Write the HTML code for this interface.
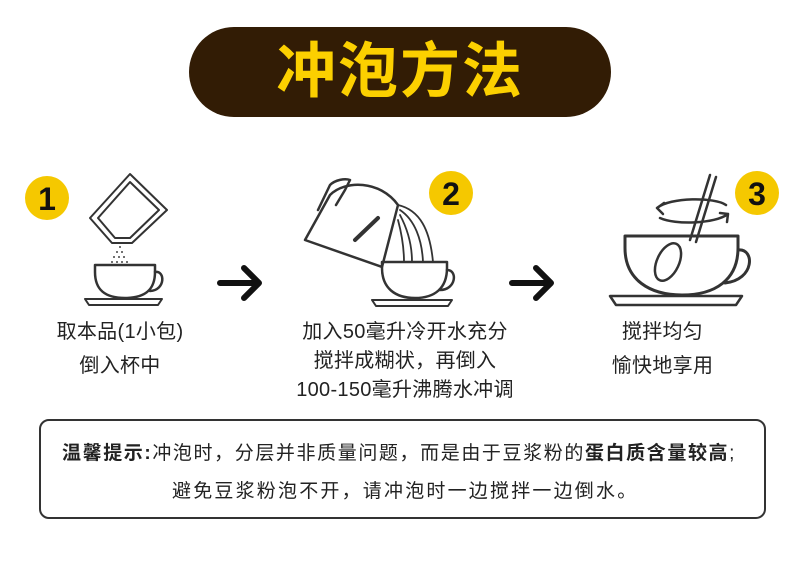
<!DOCTYPE html>
<html><head><meta charset="utf-8"><style>
body{margin:0;width:800px;height:587px;background:#fff;position:relative;overflow:hidden;font-family:"Liberation Sans","Noto Sans CJK SC",sans-serif;color:#222}
.pill{position:absolute;left:189px;top:27px;width:422px;height:90px;border-radius:45px;background:#321c05;color:#fcd000;font-size:60px;font-weight:bold;text-align:center;line-height:90px;letter-spacing:2px}
.t{position:absolute;font-size:20px;text-align:center;line-height:29px;color:#222;white-space:nowrap;letter-spacing:0.3px}
.box{position:absolute;left:39px;top:419px;width:723px;height:96px;border:2px solid #333;border-radius:10px}
.n{position:absolute;font-size:19px;white-space:nowrap;color:#222}
</style></head><body>
<div class="pill">冲泡方法</div>
<svg width="800" height="587" style="position:absolute;left:0;top:0" fill="none" stroke="#333" stroke-width="3" stroke-linecap="round" stroke-linejoin="round">
<circle cx="47" cy="198" r="22" fill="#f5c800" stroke="none"/>
<circle cx="451" cy="193" r="22" fill="#f5c800" stroke="none"/>
<circle cx="757" cy="193" r="22" fill="#f5c800" stroke="none"/>
<g font-family="Liberation Sans" font-weight="bold" font-size="32" fill="#111" stroke="none" text-anchor="middle"><text x="47" y="210">1</text><text x="451" y="205">2</text><text x="757" y="205">3</text></g>
<!-- step1 -->
<path d="M90 218 L130 174 L167 210 L132 243 L112 243 Z" stroke-width="2"/>
<path d="M98 218 L130 182 L159 210 L130 238 L115 238 Z" stroke-width="2"/>
<g fill="#444" stroke="none"><circle cx="120" cy="247" r="1"/><circle cx="117" cy="252" r="1"/><circle cx="122" cy="252" r="1"/><circle cx="114" cy="257" r="1"/><circle cx="119" cy="257" r="1"/><circle cx="124" cy="257" r="1"/><circle cx="112" cy="262" r="1"/><circle cx="117" cy="262" r="1"/><circle cx="122" cy="262" r="1"/><circle cx="127" cy="262" r="1"/></g>
<path d="M95 265 H155 V272 C155 290 145 298 125 298 C105 298 95 290 95 272 Z" stroke-width="2.5"/>
<path d="M155 272 C165 270 166 290 150 291" stroke-width="2.5"/>
<path d="M85 299 H162 L158 305 H89 Z" stroke-width="2"/>
<path d="M220 283 H258 M244 268 L259 283 L244 298" stroke="#111" stroke-width="6"/>
<!-- step2 -->
<path d="M305 240 L330 195 C345 180 380 180 398 205 L382 267 Z" stroke-width="2.5"/>
<path d="M318 210 L330 185 C335 180 345 178 350 180 L345 190 L336 205" stroke-width="2.5"/>
<path d="M355 240 L378 218" stroke-width="4"/>
<path d="M398 205 C420 210 430 230 433 262 M400 210 C415 220 422 240 423 262 M400 215 C408 230 412 245 412 262 M398 220 C402 235 404 250 404 262" stroke-width="1.8"/>
<path d="M382 262 H447 V268 C447 288 435 298 415 298 C395 298 382 288 382 268 Z" stroke-width="2.5"/>
<path d="M447 270 C458 270 456 290 440 290" stroke-width="2.5"/>
<path d="M372 300 H452 L448 306 H376 Z" stroke-width="2"/>
<path d="M512 283 H550 M536 268 L551 283 L536 298" stroke="#111" stroke-width="6"/>
<!-- step3 -->
<path d="M657 208 C670 197 715 197 726 205 M657 208 L664 203 M657 208 L663 214 M660 218 C675 225 715 224 728 214 M728 214 L720 213 M728 214 L727 222" stroke-width="2.5"/>
<path d="M710 175 L690 240 M716 177 L696 242" stroke-width="2.5"/>
<ellipse cx="668" cy="262" rx="11" ry="20" transform="rotate(25 668 262)" stroke-width="2.5"/>
<path d="M625 236 H738 V248 C738 280 715 295 682 295 C650 295 625 280 625 248 Z" stroke-width="3"/>
<path d="M738 250 C755 248 755 280 725 283" stroke-width="3"/>
<path d="M610 296 H742 L736 305 H616 Z" stroke-width="2.5"/>
</svg>
<div class="t" style="left:20px;top:318px;width:200px">取本品(1小包)<br><span style="position:relative;top:5px">倒入杯中</span></div>
<div class="t" style="left:280px;top:318px;width:250px">加入50毫升冷开水充分<br>搅拌成糊状，再倒入<br>100-150毫升沸腾水冲调</div>
<div class="t" style="left:580px;top:318px;width:165px">搅拌均匀<br><span style="position:relative;top:5px">愉快地享用</span></div>
<div class="box"></div>
<div class="n" style="left:62px;top:438px;letter-spacing:1.6px"><b>温馨提示:</b>冲泡时，分层并非质量问题，而是由于豆浆粉的<b>蛋白质含量较高</b>;</div>
<div class="n" style="left:172px;top:476px;letter-spacing:2.2px">避免豆浆粉泡不开，请冲泡时一边搅拌一边倒水。</div>
</body></html>
